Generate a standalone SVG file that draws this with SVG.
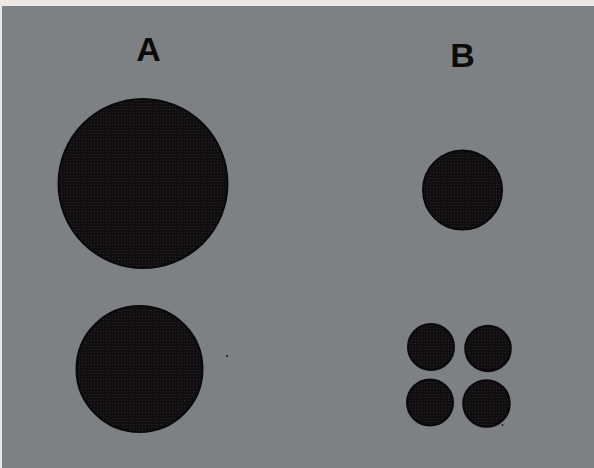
<svg xmlns="http://www.w3.org/2000/svg" width="594" height="468" viewBox="0 0 594 468">
  <defs>
    <!-- halftone screen used inside the printed discs -->
    <pattern id="screen" width="3" height="3" patternUnits="userSpaceOnUse">
      <rect width="3" height="3" fill="#100e10"/>
      <circle cx="1.5" cy="1.5" r="0.55" fill="#2e292a"/>
    </pattern>
    <style>
      .disc { fill: url(#screen); stroke: #0a090a; stroke-width: 2; }
      .label { font-family: "Liberation Sans", Arial, sans-serif; font-weight: bold; font-size: 34px; fill: #0b0b0b; text-anchor: middle; }
      .speck { fill: #1a1a1a; }
    </style>
  </defs>

  <!-- page paper and scanned grey field -->
  <rect width="594" height="468" fill="#ebe8e5"/>
  <rect x="2" y="6" width="592" height="462" fill="#7e8183"/>

  <!-- column A -->
  <g id="label-a"><text class="label" x="148.5" y="61">A</text></g>
  <g id="a-large"><circle class="disc" cx="143" cy="183.5" r="84.5"/></g>
  <g id="a-medium"><circle class="disc" cx="139.5" cy="369" r="63"/></g>

  <!-- column B -->
  <g id="label-b"><text class="label" x="462.5" y="67">B</text></g>
  <g id="b-single"><circle class="disc" cx="462.5" cy="190" r="39.5"/></g>
  <g id="b-quad">
    <circle class="disc" cx="431" cy="347" r="23"/>
    <circle class="disc" cx="488" cy="348.5" r="22.8"/>
    <circle class="disc" cx="430" cy="402.5" r="23"/>
    <circle class="disc" cx="486.5" cy="403.5" r="23.3"/>
  </g>

  <!-- stray print specks -->
  <circle class="speck" cx="227" cy="356" r="1"/>
  <circle class="speck" cx="502.5" cy="425" r="0.9"/>
</svg>
